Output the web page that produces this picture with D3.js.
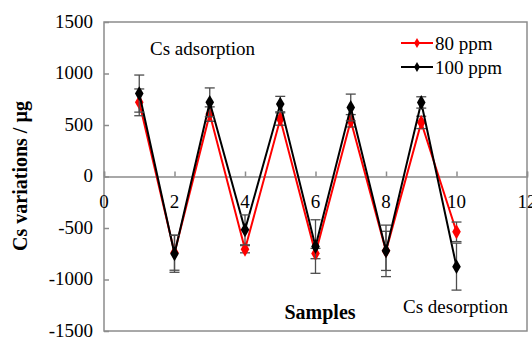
<!DOCTYPE html>
<html>
<head>
<meta charset="utf-8">
<script src="https://cdn.jsdelivr.net/npm/d3@7"></script>
<style>
  body { margin: 0; background: #fff; }
  text { font-family: "Liberation Serif", "Times New Roman", serif; }
</style>
</head>
<body>
<div id="chart"></div>
<script>
// data
const samples = [1, 2, 3, 4, 5, 6, 7, 8, 9, 10];
const ppm80 = [720, -740, 606, -706, 558, -748, 541, -722, 525, -537];
const ppm80Err = [130, 170, 70, 35, 60, 50, 60, 190, 60, 95];
const ppm100 = [805, -750, 720, -518, 703, -680, 670, -722, 719, -875];
const ppm100Err = [180, 180, 140, 145, 75, 260, 130, 250, 55, 228];
const xTicks = [0, 2, 4, 6, 8, 10, 12];
const yTicks = [-1500, -1000, -500, 0, 500, 1000, 1500];

const W = 532, H = 339;
const margin = {top: 22, right: 5, bottom: 8, left: 104};

const svg = d3.select("#chart")
  .append("svg")
    .attr("width", W)
    .attr("height", H);

const x = d3.scaleLinear()
  .domain([0, 12])
  .range([margin.left, W - margin.right]);

const y = d3.scaleLinear()
  .domain([-1500, 1500])
  .range([H - margin.bottom, margin.top]);

const axisCol = "#8c8c8c";

// plot frame
svg.append("rect")
  .attr("x", x(0))
  .attr("y", y(1500))
  .attr("width", x(12) - x(0))
  .attr("height", y(-1500) - y(1500))
  .attr("fill", "none")
  .attr("stroke", axisCol)
  .attr("stroke-width", 1.5);

// Y axis (ticks inside)
const yAxis = svg.append("g")
  .attr("transform", `translate(${x(0)},0)`)
  .call(d3.axisRight(y).tickValues(yTicks).tickSize(5).tickFormat(""));
yAxis.select(".domain").remove();
yAxis.selectAll("line").attr("stroke", axisCol).attr("stroke-width", 1.5);

svg.selectAll("ylab")
  .data(yTicks)
  .enter()
  .append("text")
    .attr("x", x(0) - 11)
    .attr("y", d => y(d))
    .attr("dy", "0.3em")
    .attr("text-anchor", "end")
    .style("font-size", "19px")
    .text(d => d);

// X axis at zero, ticks pointing up
const xAxis = svg.append("g")
  .attr("transform", `translate(0,${y(0)})`)
  .call(d3.axisTop(x).tickValues(xTicks).tickSize(5).tickFormat(""));
xAxis.select(".domain").attr("stroke", axisCol).attr("stroke-width", 1.5);
xAxis.selectAll("line").attr("stroke", axisCol).attr("stroke-width", 1.5);

svg.selectAll("xlab")
  .data(xTicks)
  .enter()
  .append("text")
    .attr("x", d => x(d))
    .attr("y", y(0) + 31)
    .attr("text-anchor", "middle")
    .style("font-size", "19px")
    .text(d => d);

const series = [
  {name: "80 ppm", vals: ppm80, err: ppm80Err, color: "#ff0000"},
  {name: "100 ppm", vals: ppm100, err: ppm100Err, color: "#000000"}
];

const line = d3.line()
  .x(d => x(d[0]))
  .y(d => y(d[1]));

const diamond = d3.symbol().type(d3.symbolDiamond).size(64);

series.forEach(s => {
  const pts = samples.map((v, i) => [v, s.vals[i], s.err[i]]);

  svg.append("path")
    .datum(pts)
    .attr("d", line)
    .attr("fill", "none")
    .attr("stroke", s.color)
    .attr("stroke-width", 2);

  // error bars
  const eb = svg.append("g")
    .attr("stroke", "#4d4d4d")
    .attr("stroke-width", 1.3);
  eb.selectAll("line.v")
    .data(pts)
    .enter()
    .append("line")
      .attr("x1", d => x(d[0]))
      .attr("x2", d => x(d[0]))
      .attr("y1", d => y(d[1] - d[2]))
      .attr("y2", d => y(d[1] + d[2]));
  [1, -1].forEach(sg => {
    eb.selectAll("line.c" + sg)
      .data(pts)
      .enter()
      .append("line")
        .attr("x1", d => x(d[0]) - 5)
        .attr("x2", d => x(d[0]) + 5)
        .attr("y1", d => y(d[1] + sg * d[2]))
        .attr("y2", d => y(d[1] + sg * d[2]));
  });

  svg.selectAll("mark")
    .data(pts)
    .enter()
    .append("path")
      .attr("d", diamond)
      .attr("transform", d => `translate(${x(d[0])},${y(d[1])})`)
      .attr("fill", s.color);
});

// legend
const legY = [43, 67];
series.forEach((s, i) => {
  const g = svg.append("g").attr("transform", `translate(401,${legY[i]})`);
  g.append("line")
    .attr("x1", 0).attr("x2", 32)
    .attr("stroke", s.color)
    .attr("stroke-width", 2);
  g.append("path")
    .attr("d", d3.symbol().type(d3.symbolDiamond).size(30))
    .attr("transform", "translate(16,0)")
    .attr("fill", s.color);
  g.append("text")
    .attr("x", 34)
    .attr("dy", "0.35em")
    .style("font-size", "19px")
    .text(s.name);
});

// annotations
svg.append("text")
  .attr("x", 150).attr("y", 55)
  .style("font-size", "19px")
  .text("Cs adsorption");

svg.append("text")
  .attr("x", 403).attr("y", 313)
  .style("font-size", "19px")
  .text("Cs desorption");

svg.append("text")
  .attr("x", 320).attr("y", 319)
  .attr("text-anchor", "middle")
  .style("font-size", "20px")
  .style("font-weight", "bold")
  .text("Samples");

svg.append("text")
  .attr("transform", "translate(27,176) rotate(-90)")
  .attr("text-anchor", "middle")
  .style("font-size", "20px")
  .style("font-weight", "bold")
  .text("Cs variations / µg");
</script>
</body>
</html>
